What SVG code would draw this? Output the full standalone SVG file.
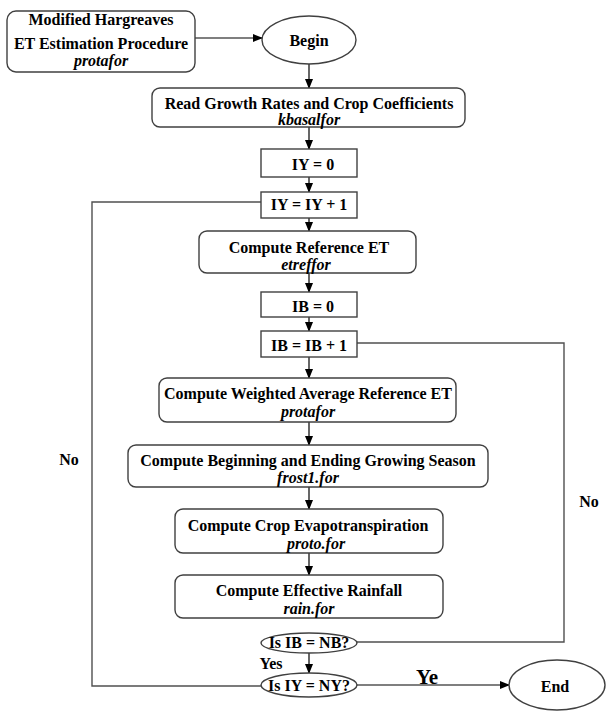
<svg xmlns="http://www.w3.org/2000/svg" width="610" height="716" viewBox="0 0 610 716">
<defs>
<marker id="arr" markerWidth="10" markerHeight="8" refX="9" refY="4" orient="auto" markerUnits="userSpaceOnUse">
<path d="M0,0 L10,4 L0,8 Z" fill="#000"/>
</marker>
<style>
.box{fill:#fff;stroke:#404040;stroke-width:1.4}
.t{font-family:"Liberation Serif","Times New Roman",serif;font-weight:bold;font-size:16px;fill:#000;text-anchor:middle}
.i{font-style:italic}
.c{fill:none;stroke:#505050;stroke-width:1.4}
.a{fill:none;stroke:#000;stroke-width:1.2;marker-end:url(#arr)}
</style>
</defs>
<rect width="610" height="716" fill="#fff"/>

<g id="connectors">
<line class="a" x1="195" y1="38" x2="262" y2="38"/>
<line class="a" x1="309" y1="64" x2="309" y2="88"/>
<line class="a" x1="309" y1="127" x2="309" y2="149"/>
<line class="a" x1="309" y1="177" x2="309" y2="192"/>
<line class="a" x1="309" y1="218" x2="309" y2="231"/>
<line class="a" x1="309" y1="273" x2="309" y2="292"/>
<line class="a" x1="309" y1="317" x2="309" y2="331"/>
<line class="a" x1="309" y1="357" x2="309" y2="378"/>
<line class="a" x1="309" y1="422" x2="309" y2="445"/>
<line class="a" x1="309" y1="487" x2="309" y2="509"/>
<line class="a" x1="309" y1="553" x2="309" y2="575"/>
<line class="a" x1="309" y1="653" x2="309" y2="673"/>
<line class="a" x1="357" y1="685" x2="509" y2="685"/>
<polyline class="c" points="357,343 564,343 564,642 357,642"/>
<polyline class="c" points="261,686 92,686 92,202 261,202"/>
<text class="t" x="69" y="465">No</text>
<text class="t" x="589" y="507">No</text>
<text class="t" x="271" y="669">Yes</text>
<text class="t" x="427" y="684" style="font-size:21px">Ye</text>
</g>

<g id="n-modified">
<rect class="box" x="7" y="11" width="188" height="61" rx="9"/>
<text class="t" x="101" y="25">Modified Hargreaves</text>
<text class="t" x="101" y="49">ET Estimation Procedure</text>
<text class="t i" x="101" y="66">protafor</text>
</g>

<g id="n-begin">
<ellipse class="box" cx="309" cy="40" rx="47" ry="24"/>
<text class="t" x="309" y="46">Begin</text>
</g>

<g id="n-read">
<rect class="box" x="152" y="88" width="313" height="39" rx="8"/>
<text class="t" x="309" y="109">Read Growth Rates and Crop Coefficients</text>
<text class="t i" x="309" y="125">kbasalfor</text>
</g>

<g id="n-iy0">
<rect class="box" x="261" y="149" width="96" height="28"/>
<text class="t" x="313" y="170">IY = 0</text>
</g>

<g id="n-iy1">
<rect class="box" x="261" y="192" width="96" height="26"/>
<text class="t" x="309" y="210">IY = IY + 1</text>
</g>

<g id="n-refet">
<rect class="box" x="199" y="231" width="217" height="42" rx="8"/>
<text class="t" x="309" y="253">Compute Reference ET</text>
<text class="t i" x="306" y="270">etreffor</text>
</g>

<g id="n-ib0">
<rect class="box" x="261" y="292" width="96" height="25"/>
<text class="t" x="313" y="312">IB = 0</text>
</g>

<g id="n-ib1">
<rect class="box" x="261" y="331" width="96" height="26"/>
<text class="t" x="309" y="351">IB = IB + 1</text>
</g>

<g id="n-weighted">
<rect class="box" x="159" y="378" width="297" height="44" rx="8"/>
<text class="t" x="308" y="399">Compute Weighted Average Reference ET</text>
<text class="t i" x="308" y="417">protafor</text>
</g>

<g id="n-season">
<rect class="box" x="128" y="445" width="360" height="42" rx="8"/>
<text class="t" x="308" y="466">Compute Beginning and Ending Growing Season</text>
<text class="t i" x="308" y="483">frost1.for</text>
</g>

<g id="n-cropet">
<rect class="box" x="175" y="509" width="268" height="44" rx="8"/>
<text class="t" x="308" y="531">Compute Crop Evapotranspiration</text>
<text class="t i" x="316" y="549">proto.for</text>
</g>

<g id="n-rain">
<rect class="box" x="175" y="575" width="268" height="43" rx="8"/>
<text class="t" x="309" y="596">Compute Effective Rainfall</text>
<text class="t i" x="309" y="614">rain.for</text>
</g>

<g id="n-isib">
<ellipse class="box" cx="309" cy="643" rx="48" ry="10"/>
<text class="t" x="309" y="648">Is IB = NB?</text>
</g>

<g id="n-isiy">
<ellipse class="box" cx="309" cy="685" rx="48" ry="12"/>
<text class="t" x="309" y="691">Is IY = NY?</text>
</g>

<g id="n-end">
<ellipse class="box" cx="557" cy="685" rx="48" ry="25"/>
<text class="t" x="555" y="692">End</text>
</g>
</svg>
